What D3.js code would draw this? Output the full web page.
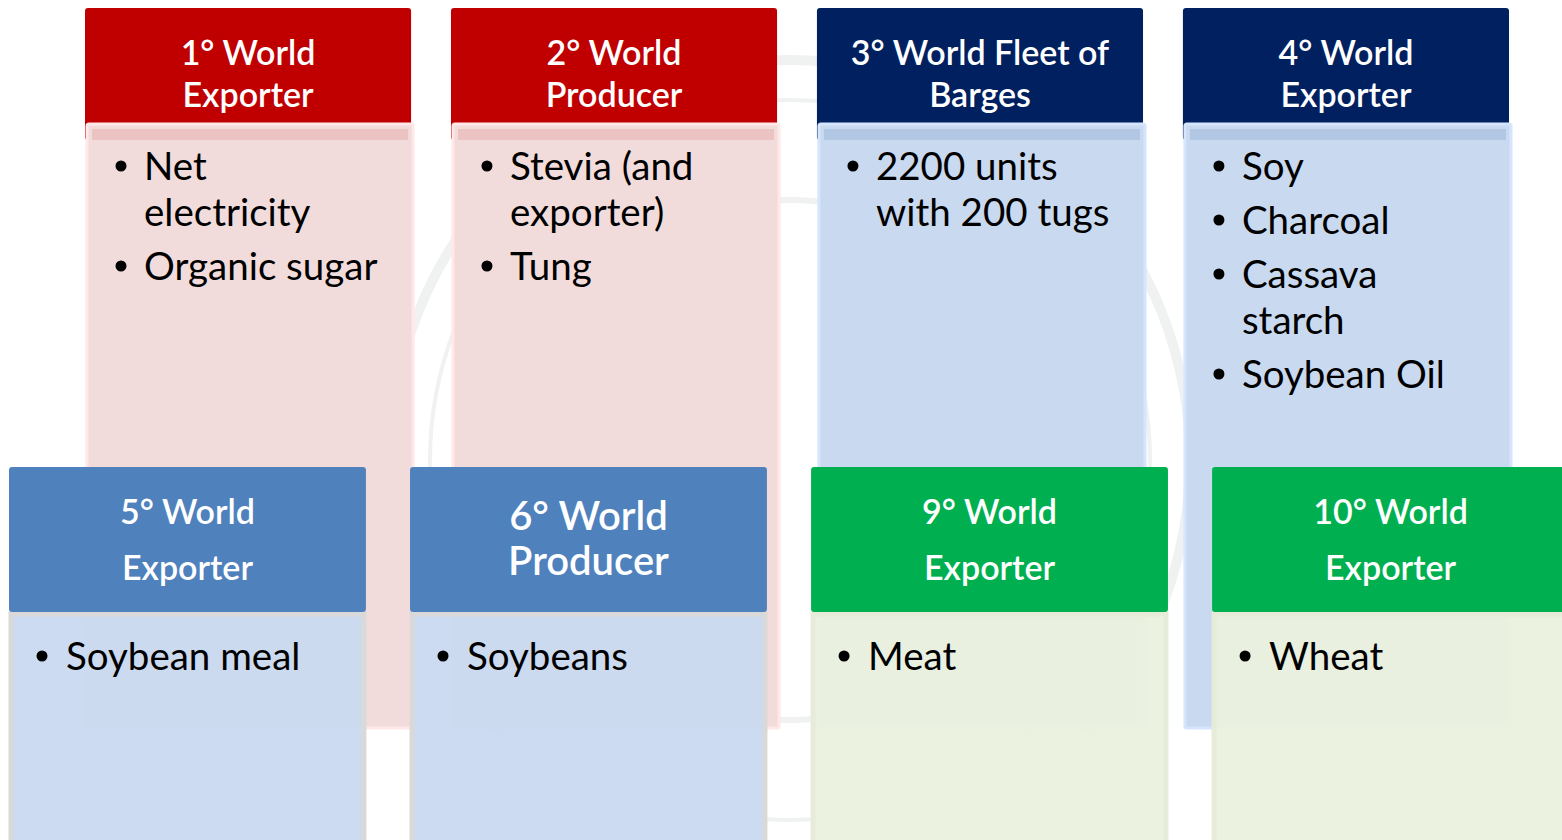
<!DOCTYPE html>
<html>
<head>
<meta charset="utf-8">
<script src="https://cdn.jsdelivr.net/npm/d3@7"></script>
<style>
  html, body { margin: 0; padding: 0; background: #fff; }
  svg { display: block; }
  text { font-family: Lato, "Open Sans", sans-serif; }
</style>
</head>
<body>
<div id="chart"></div>
<script>
// Datos de las tarjetas
const topHeaders = [["1° World", "Exporter"], ["2° World", "Producer"], ["3° World Fleet of", "Barges"], ["4° World", "Exporter"]];
const topItems = [
  [["Net", "electricity"], ["Organic sugar"]],
  [["Stevia (and", "exporter)"], ["Tung"]],
  [["2200 units", "with 200 tugs"]],
  [["Soy"], ["Charcoal"], ["Cassava", "starch"], ["Soybean Oil"]]
];
const topColors = ["#C00000", "#C00000", "#002060", "#002060"];
const topBodyColors = ["#F2DCDB", "#F2DCDB", "#C9D9F0", "#C9D9F0"];
const topStripColors = ["#EBC3C3", "#EBC3C3", "#B2C7E3", "#B2C7E3"];

const bottomHeaders = [["5° World", "Exporter"], ["6° World", "Producer"], ["9° World", "Exporter"], ["10° World", "Exporter"]];
const bottomItems = [[["Soybean meal"]], [["Soybeans"]], [["Meat"]], [["Wheat"]]];
const bottomColors = ["#4F81BD", "#4F81BD", "#00B050", "#00B050"];
const bottomBodyColors = ["#C9D9F0", "#C9D9F0", "#EBF1DE", "#EBF1DE"];
const bottomBorderColors = ["#D9D9D9", "#D9D9D9", "#E6ECD8", "#E6ECD8"];

const W = 1562, H = 840;
const svg = d3.select('#chart').append('svg').attr('width', W).attr('height', H);

// Marca de agua (sello)
const wm = svg.append('g').attr('fill', 'none').attr('stroke', '#F0F2F2');
wm.append('circle').attr('cx', 790).attr('cy', 460).attr('r', 400).attr('stroke-width', 10);
wm.append('circle').attr('cx', 790).attr('cy', 460).attr('r', 360).attr('stroke-width', 4);
wm.append('circle').attr('cx', 790).attr('cy', 460).attr('r', 260).attr('stroke-width', 6);

// Escalas
const xTop = d3.scaleBand().domain(d3.range(4)).range([85, 1509]).paddingInner(0.109);
const xBottom = d3.scaleBand().domain(d3.range(4)).range([9, 1569]).paddingInner(0.11);

// Fila superior
const topRow = svg.append('g');
topHeaders.forEach((h, i) => {
  const x = xTop(i), w = xTop.bandwidth();
  const g = topRow.append('g');
  g.append('rect').attr('x', x).attr('y', 8).attr('width', w).attr('height', 132)
    .attr('rx', 3).attr('fill', topColors[i]);
  g.append('rect').attr('x', x + 2).attr('y', 124).attr('width', w).attr('height', 604)
    .attr('rx', 2).attr('fill', topBodyColors[i]).attr('stroke', d3.color(topBodyColors[i]).brighter(0.15)).attr('stroke-width', 3);
  g.append('rect').attr('x', x + 7).attr('y', 129).attr('width', w - 10).attr('height', 11)
    .attr('fill', topStripColors[i]);
  h.forEach((line, j) => {
    g.append('text').attr('x', x + w / 2).attr('y', 65 + j * 42)
      .attr('text-anchor', 'middle').attr('fill', '#fff')
      .attr('font-size', 34).attr('font-weight', 600).text(line);
  });
  let y = 180;
  topItems[i].forEach(item => {
    g.append('circle').attr('cx', x + 36).attr('cy', y - 14).attr('r', 5.5).attr('fill', '#000');
    item.forEach((line, k) => {
      g.append('text').attr('x', x + 59).attr('y', y).attr('fill', '#000')
        .attr('font-size', 38.5).text(line);
      y += k < item.length - 1 ? 46 : 54;
    });
  });
});

// Fila inferior
const bottomRow = svg.append('g');
bottomHeaders.forEach((h, i) => {
  const x = xBottom(i), w = xBottom.bandwidth();
  const g = bottomRow.append('g');
  g.append('rect').attr('x', x + 2).attr('y', 614).attr('width', w - 4).attr('height', 240)
    .attr('fill', bottomBodyColors[i]).attr('fill-opacity', 0.95)
    .attr('stroke', bottomBorderColors[i]).attr('stroke-width', 5);
  g.append('rect').attr('x', x).attr('y', 467).attr('width', w).attr('height', 145)
    .attr('rx', 3).attr('fill', bottomColors[i]);
  const big = i === 1;
  h.forEach((line, j) => {
    g.append('text').attr('x', x + w / 2).attr('y', big ? 530 + j * 45 : 524 + j * 56)
      .attr('text-anchor', 'middle').attr('fill', '#fff')
      .attr('font-size', big ? 40 : 34).attr('font-weight', 600).text(line);
  });
  let y = 670;
  bottomItems[i].forEach(item => {
    g.append('circle').attr('cx', x + 33).attr('cy', y - 14).attr('r', 5.5).attr('fill', '#000');
    item.forEach(line => {
      g.append('text').attr('x', x + 57).attr('y', y).attr('fill', '#000')
        .attr('font-size', 38.5).text(line);
      y += 54;
    });
  });
});
</script>
</body>
</html>
